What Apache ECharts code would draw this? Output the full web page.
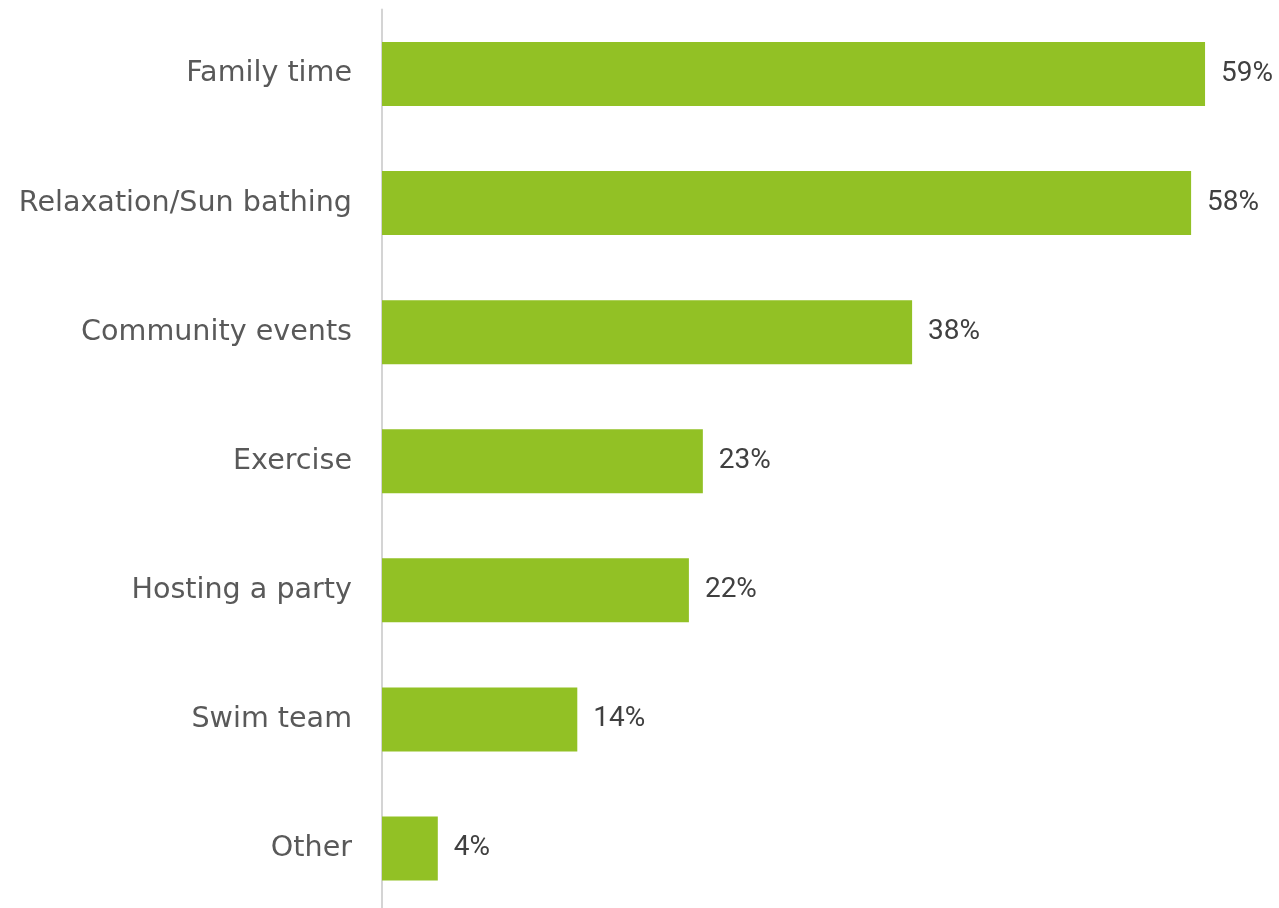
<!DOCTYPE html>
<html><head><meta charset="utf-8">
<script src="https://cdn.jsdelivr.net/npm/echarts@6/dist/echarts.min.js"></script>
<style>html,body{margin:0;padding:0;background:#fff;overflow:hidden}#c{width:1279px;height:913px}</style>
</head><body><div id="c"></div>
<script>
const categories = ["Family time","Relaxation/Sun bathing","Community events","Exercise","Hosting a party","Swim team","Other"];
const values = [59,58,38,23,22,14,4];
const chart = echarts.init(document.getElementById('c'));
chart.setOption({
  animation:false,
  grid:{left:382,width:837,top:9.5,bottom:0,containLabel:false},
  xAxis:{type:'value',min:0,max:60,show:false,splitLine:{show:false}},
  yAxis:{type:'category',data:categories,inverse:true,
    axisLine:{show:true,lineStyle:{color:'#d4d4d4',width:2}},
    axisTick:{show:false},
    axisLabel:{margin:30,color:'#595959',fontSize:28.6,fontFamily:'DejaVu Sans'}},
  series:[{type:'bar',data:values,barWidth:64,
    itemStyle:{color:'#92C125'},
    label:{show:true,position:'right',distance:16,formatter:'{c}%',color:'#404040',fontSize:28,fontFamily:'Roboto'}}]
});
</script></body></html>
